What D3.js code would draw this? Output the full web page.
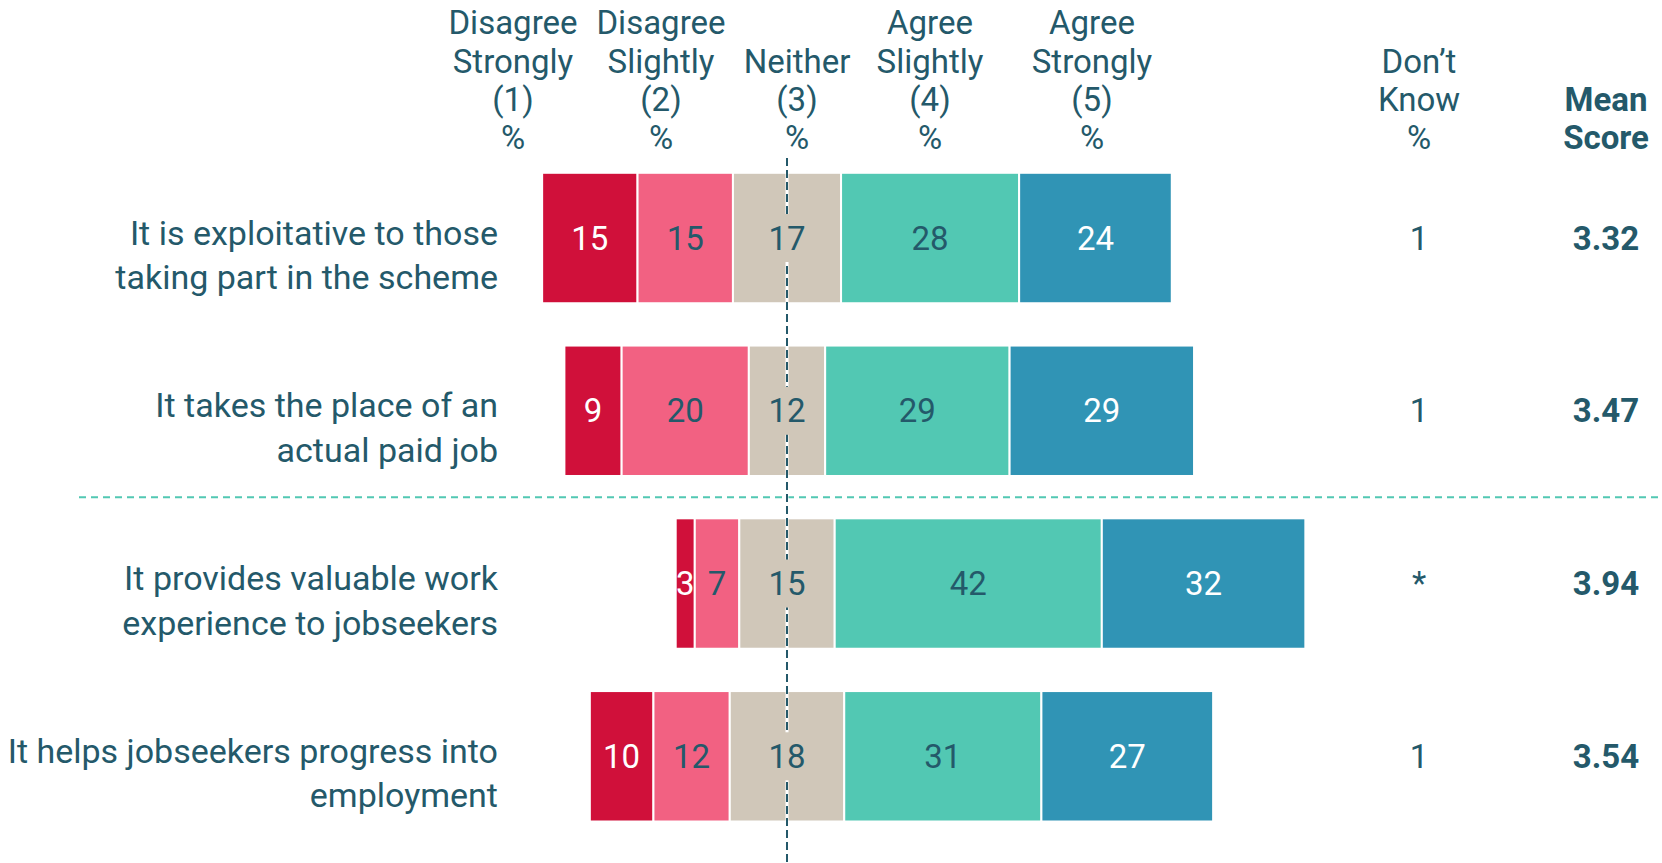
<!DOCTYPE html>
<html>
<head>
<meta charset="utf-8">
<script src="https://cdn.jsdelivr.net/npm/d3@7"></script>
<style>
  body { margin: 0; background: #fff; }
  text { font-family: "Roboto", sans-serif; }
</style>
</head>
<body>
<div id="chart"></div>
<script>
// Chart data
var statements = [
    ["It is exploitative to those", "taking part in the scheme"],
    ["It takes the place of an", "actual paid job"],
    ["It provides valuable work", "experience to jobseekers"],
    ["It helps jobseekers progress into", "employment"]
];
var disagreeStrongly = [15, 9, 3, 10];
var disagreeSlightly = [15, 20, 7, 12];
var neither = [17, 12, 15, 18];
var agreeSlightly = [28, 29, 42, 31];
var agreeStrongly = [24, 29, 32, 27];
var dontKnow = ["1", "1", "*", "1"];
var meanScore = ["3.32", "3.47", "3.94", "3.54"];

var headers = [
    ["Disagree", "Strongly", "(1)", "%"],
    ["Disagree", "Slightly", "(2)", "%"],
    ["", "Neither", "(3)", "%"],
    ["Agree", "Slightly", "(4)", "%"],
    ["Agree", "Strongly", "(5)", "%"]
];
var dkHeader = ["", "Don\u2019t", "Know", "%"];
var meanHeader = ["", "", "Mean", "Score"];

var colors = ["#d0103a", "#f26182", "#d0c7b9", "#52c8b3", "#3094b5"];
var labelColors = ["#ffffff", "#24596a", "#24596a", "#24596a", "#ffffff"];
var textColor = "#24596a";

var width = 1662;
var height = 863;
var centerX = 787;
var pxPerPct = 6.36;

var svg = d3.select("#chart").append("svg")
    .attr("width", width)
    .attr("height", height);

// x scale: 0 = middle of the "Neither" segment
var x = d3.scaleLinear()
    .domain([-50, 50])
    .range([centerX - 50 * pxPerPct, centerX + 50 * pxPerPct]);

var y = d3.scaleBand()
    .domain(d3.range(statements.length))
    .range([172.8, 821.5])
    .paddingInner(0.245)
    .paddingOuter(0);

// build the segments per row
var series = [disagreeStrongly, disagreeSlightly, neither, agreeSlightly, agreeStrongly];
var segments = [];
statements.forEach(function(s, i) {
    var start = -(disagreeStrongly[i] + disagreeSlightly[i] + neither[i] / 2);
    series.forEach(function(vals, k) {
        segments.push({row: i, k: k, v: vals[i], x0: start, x1: start + vals[i]});
        start += vals[i];
    });
});

// bars
svg.append("g").selectAll("rect")
    .data(segments)
    .enter().append("rect")
    .attr("x", function(d) { return x(d.x0); })
    .attr("y", function(d) { return y(d.row); })
    .attr("width", function(d) { return x(d.x1) - x(d.x0); })
    .attr("height", y.bandwidth())
    .style("fill", function(d) { return colors[d.k]; })
    .style("stroke", "#fff")
    .style("stroke-width", 2);

// horizontal dashed separator between row 2 and 3
var sepY = (y(1) + y.bandwidth() + y(2)) / 2;
svg.append("line")
    .attr("x1", 79).attr("x2", width)
    .attr("y1", sepY).attr("y2", sepY)
    .style("stroke", "#52c8b3")
    .style("stroke-width", 2)
    .style("stroke-dasharray", "7,5");

// vertical midline (white underlay + dark dashes)
svg.append("line")
    .attr("x1", x(0)).attr("x2", x(0))
    .attr("y1", 158).attr("y2", height)
    .style("stroke", "#fff")
    .style("stroke-width", 3);
svg.append("line")
    .attr("x1", x(0)).attr("x2", x(0))
    .attr("y1", 158).attr("y2", height)
    .style("stroke", "#24596a")
    .style("stroke-width", 2)
    .style("stroke-dasharray", "8,4");

// cover the midline behind the "Neither" labels
svg.append("g").selectAll("rect")
    .data(segments.filter(function(d) { return d.k === 2; }))
    .enter().append("rect")
    .attr("x", x(0) - 4)
    .attr("y", function(d) { return y(d.row) + y.bandwidth() / 2 - 24; })
    .attr("width", 8)
    .attr("height", 48)
    .style("fill", colors[2]);

// segment value labels
svg.append("g").selectAll("text")
    .data(segments)
    .enter().append("text")
    .attr("x", function(d) { return (x(d.x0) + x(d.x1)) / 2; })
    .attr("y", function(d) { return y(d.row) + y.bandwidth() / 2; })
    .attr("dy", "0.35em")
    .attr("text-anchor", "middle")
    .style("font-size", "33px")
    .style("fill", function(d) { return labelColors[d.k]; })
    .text(function(d) { return d.v; });

// row labels
var rowLabels = svg.append("g").selectAll("text")
    .data(statements)
    .enter().append("text")
    .attr("text-anchor", "end")
    .style("font-size", "34px")
    .style("fill", textColor);
rowLabels.each(function(lines, i) {
    var t = d3.select(this);
    var cy = y(i) + y.bandwidth() / 2 + 17;
    lines.forEach(function(line, j) {
        t.append("tspan")
            .attr("x", 498)
            .attr("y", cy + (j - 0.5) * 44.5)
            .attr("dy", "0.35em")
            .text(line);
    });
});

// column headers
var headerY = [22.3, 61.5, 99.6, 137.8];
var headerX = [513, 661, 797, 930, 1092];
function drawHeader(lines, cx, bold) {
    var g = svg.append("g");
    lines.forEach(function(line, j) {
        if (!line) return;
        g.append("text")
            .attr("x", cx)
            .attr("y", headerY[j])
            .attr("dy", "0.35em")
            .attr("text-anchor", "middle")
            .style("font-size", "33px")
            .style("font-weight", bold ? "bold" : "normal")
            .style("fill", textColor)
            .text(line);
    });
}
headers.forEach(function(h, i) { drawHeader(h, headerX[i], false); });
drawHeader(dkHeader, 1419, false);
drawHeader(meanHeader, 1606, true);

// don't know and mean score columns
svg.append("g").selectAll("text")
    .data(dontKnow)
    .enter().append("text")
    .attr("x", 1419)
    .attr("y", function(d, i) { return y(i) + y.bandwidth() / 2; })
    .attr("dy", "0.35em")
    .attr("text-anchor", "middle")
    .style("font-size", "33px")
    .style("fill", textColor)
    .text(function(d) { return d; });

svg.append("g").selectAll("text")
    .data(meanScore)
    .enter().append("text")
    .attr("x", 1606)
    .attr("y", function(d, i) { return y(i) + y.bandwidth() / 2; })
    .attr("dy", "0.35em")
    .attr("text-anchor", "middle")
    .style("font-size", "33px")
    .style("font-weight", "bold")
    .style("fill", textColor)
    .text(function(d) { return d; });
</script>
</body>
</html>
